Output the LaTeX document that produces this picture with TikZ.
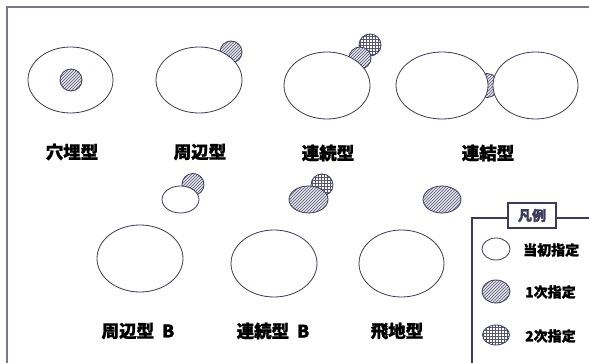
\documentclass[tikz,border=0pt]{standalone}
\usepackage{fontspec}
\setmainfont{Noto Sans CJK JP}[BoldFeatures={FakeBold=1.2}]
\usetikzlibrary{shapes.geometric,patterns}
\definecolor{lineC}{HTML}{3A3A5E}
\definecolor{frameC}{HTML}{77778F}
\definecolor{hatchC}{HTML}{555575}
\definecolor{hatchBg}{HTML}{E4E4E8}
\tikzset{
  area/.style={ellipse, draw=lineC, line width=0.8pt, fill=white, inner sep=0pt},
  hatched/.style={ellipse, draw=lineC, line width=0.8pt, inner sep=0pt,
    preaction={fill=hatchBg}, pattern=north east lines, pattern color=hatchC},
  gridded/.style={ellipse, draw=lineC, line width=0.8pt, inner sep=0pt,
    preaction={fill=white}, pattern=grid, pattern color=hatchC},
  lbl/.style={font=\bfseries\fontsize{17.5}{18}\selectfont, text=black, inner sep=0pt},
  leglbl/.style={font=\bfseries\fontsize{14}{15}\selectfont, text=black, inner sep=0pt, anchor=west},
}
\begin{document}
\begin{tikzpicture}[x=1pt,y=-1pt]
\useasboundingbox (0,0) rectangle (589,363);
% frame
\draw[frameC, line width=1.6pt] (7,363) -- (7,7) -- (589,7);

% 穴埋型
\node[area, minimum width=85pt, minimum height=66pt] (e1) at (70.5,80) {};
\node[hatched, minimum size=22pt] (h1) at (71,80) {};
\node[lbl] (t1) at (72,152) {穴埋型};

% 周辺型
\node[hatched, minimum size=22pt] (h2) at (231,52) {};
\node[area, minimum width=86pt, minimum height=66pt] (e2) at (199,80) {};
\node[lbl] (t2) at (200,152) {周辺型};

% 連続型
\node[gridded, minimum size=22pt] (g3) at (370,45) {};
\node[hatched, minimum size=22pt] (h3) at (360,58) {};
\node[area, minimum width=86pt, minimum height=67pt] (e3) at (327,85.5) {};
\node[lbl] (t3) at (328,153) {連続型};

% 連結型
\node[hatched, minimum size=24pt] (h4) at (487,85.5) {};
\node[area, minimum width=92pt, minimum height=67pt] (e4a) at (442,85.5) {};
\node[area, minimum width=85pt, minimum height=67pt] (e4b) at (535.5,85.5) {};
\node[lbl] (t4) at (488,153) {連結型};

% 周辺型 B
\node[hatched, minimum size=22pt] (h5) at (193,184.5) {};
\node[area, minimum width=37pt, minimum height=27pt] (s5) at (180.5,199.5) {};
\node[area, minimum width=86pt, minimum height=67pt] (e5) at (140,258.5) {};
\node[lbl] (t5) at (138,331) {周辺型~~B};

% 連続型 B
\node[gridded, minimum size=22pt] (g6) at (322,185) {};
\node[hatched, minimum width=39pt, minimum height=27pt] (h6) at (308.5,199.5) {};
\node[area, minimum width=86pt, minimum height=67pt] (e6) at (274,263.5) {};
\node[lbl] (t6) at (273,331) {連続型~~B};

% 飛地型
\node[hatched, minimum width=38pt, minimum height=27pt] (h7) at (442,199.5) {};
\node[area, minimum width=85pt, minimum height=67pt] (e7) at (401.5,263.5) {};
\node[lbl] (t7) at (397,331) {飛地型};

% legend
\draw[lineC, line width=1.2pt] (472,363) -- (472,218) -- (589,218);
\node[draw=lineC, line width=1.2pt, fill=white, minimum width=48pt, minimum height=25pt, inner sep=0pt,
  font=\bfseries\fontsize{14}{15}\selectfont, text=lineC] (lt) at (532,215.5) {凡例};
\node[area, minimum width=28pt, minimum height=22pt] (l1) at (496,249) {};
\node[leglbl] (lt1) at (523,250) {当初指定};
\node[hatched, minimum width=28pt, minimum height=23pt] (l2) at (496,291.5) {};
\node[leglbl] (lt2) at (525,292) {1次指定};
\node[gridded, minimum width=27pt, minimum height=20pt] (l3) at (496,335) {};
\node[leglbl] (lt3) at (525,336) {2次指定};
\end{tikzpicture}
\end{document}
